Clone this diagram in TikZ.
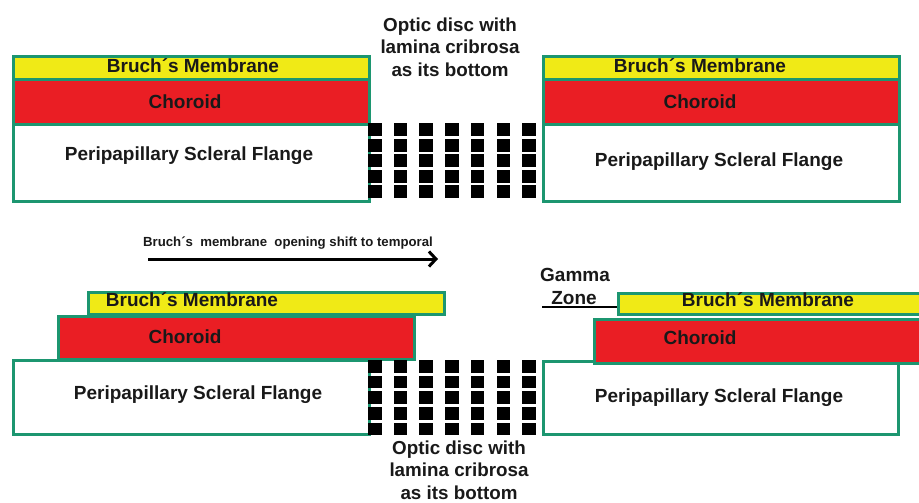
\documentclass[tikz,border=0pt]{standalone}
\usepackage{fontspec}
\setmainfont{Liberation Sans}
\usetikzlibrary{arrows.meta}
\definecolor{layerborder}{RGB}{28,150,112}
\definecolor{bmyellow}{RGB}{240,234,22}
\definecolor{chred}{RGB}{234,30,36}
\definecolor{inkdark}{RGB}{25,25,25}
\begin{document}
\begin{tikzpicture}[x=1pt,y=-1pt,
  layer/.style={draw=layerborder,line width=2.6pt,inner sep=0pt,anchor=north west},
  lbl/.style={font=\bfseries\fontsize{19}{22}\selectfont,text=inkdark,inner sep=0pt},
  disclbl/.style={font=\bfseries\fontsize{18.8}{22.5}\selectfont,text=inkdark,align=center,inner sep=0pt},
  smalllbl/.style={font=\bfseries\fontsize{13.2}{15}\selectfont,text=inkdark,inner sep=0pt},
  lamina/.style={fill=black}
]
\clip (0,0) rectangle (919,503);
\fill[white] (0,0) rectangle (919,503);

% ---------- upper panel ----------
\node[layer,fill=white,minimum width=356pt,minimum height=77pt] (scTL) at (12,123) {};
\node[layer,fill=chred,minimum width=356pt,minimum height=45pt] (chTL) at (12,78) {};
\node[layer,fill=bmyellow,minimum width=356pt,minimum height=23pt] (bmTL) at (12,55) {};

\node[layer,fill=white,minimum width=356pt,minimum height=77pt] (scTR) at (542,123) {};
\node[layer,fill=chred,minimum width=356pt,minimum height=45pt] (chTR) at (542,78) {};
\node[layer,fill=bmyellow,minimum width=356pt,minimum height=23pt] (bmTR) at (542,55) {};

% lamina cribrosa pores (upper)
\foreach \i in {0,...,6}
  \foreach \j in {0,...,4}
    \fill[lamina] ({368+25.7*\i},{123+15.5*\j}) rectangle ++(13.5,13);

\node[lbl] (tBmTL) at (193,66) {Bruch´s Membrane};
\node[lbl] (tChTL) at (185,102) {Choroid};
\node[lbl] (tScTL) at (189,156) {Peripapillary Scleral Flange};
\node[lbl] (tBmTR) at (700,66) {Bruch´s Membrane};
\node[lbl] (tChTR) at (700,102) {Choroid};
\node[lbl] (tScTR) at (719,162) {Peripapillary Scleral Flange};

\node[disclbl] (discTop) at (450,47) {Optic disc with\\lamina cribrosa\\as its bottom};

% ---------- lower panel ----------
\node[layer,fill=white,minimum width=356pt,minimum height=74pt] (scBL) at (12,359) {};
\node[layer,fill=chred,minimum width=356pt,minimum height=43pt] (chBL) at (57,315) {};
\node[layer,fill=bmyellow,minimum width=356pt,minimum height=22pt] (bmBL) at (87,291) {};

\node[layer,fill=white,minimum width=355pt,minimum height=73pt] (scBR) at (542,360) {};
\node[layer,fill=chred,minimum width=340pt,minimum height=44pt] (chBR) at (593,318) {};
\node[layer,fill=bmyellow,minimum width=320pt,minimum height=21pt] (bmBR) at (617,292) {};

% lamina cribrosa pores (lower)
\foreach \i in {0,...,6}
  \foreach \j in {0,...,4}
    \fill[lamina] ({368+25.7*\i},{360+15.7*\j}) rectangle ++(13.5,12.5);

\node[lbl] (tBmBL) at (192,300) {Bruch´s Membrane};
\node[lbl] (tChBL) at (185,337) {Choroid};
\node[lbl] (tScBL) at (198,395) {Peripapillary Scleral Flange};
\node[lbl] (tBmBR) at (768,300) {Bruch´s Membrane};
\node[lbl] (tChBR) at (700,338) {Choroid};
\node[lbl] (tScBR) at (719,398) {Peripapillary Scleral Flange};

\node[disclbl] (discBot) at (459,470) {Optic disc with\\lamina cribrosa\\as its bottom};

% shift of the Bruch's membrane opening
\node[smalllbl] (shiftLbl) at (288,243) {Bruch´s\ \ membrane\ \ opening shift to temporal};
\coordinate (shiftS) at (148,259);
\coordinate (shiftE) at (438,259);
\draw[line width=3pt,-{Straight Barb[length=7pt,width=15pt,line width=3pt]}] (shiftS) -- (shiftE);

% gamma zone
\node[lbl] (gamma) at (575,275) {Gamma};
\node[lbl] (zone) at (574,298) {Zone};
\coordinate (zoneS) at (542,307);
\draw[line width=2.2pt] (zoneS) -- (bmBR.south west |- zoneS);
\end{tikzpicture}
\end{document}
